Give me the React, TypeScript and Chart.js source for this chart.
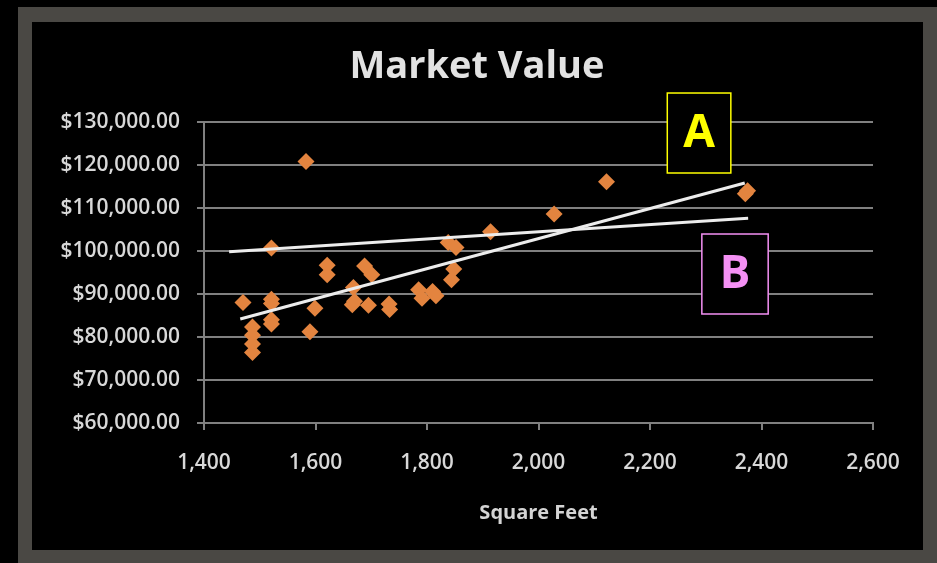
import React, { useEffect, useRef } from "react";
import { Chart, registerables } from "chart.js";

Chart.register(...registerables);

// Homes: living area (sq ft) and market value ($)
const squareFeet = [
  1470, 1487, 1487, 1487, 1487, 1521, 1521, 1521, 1521, 1521,
  1583, 1590, 1599, 1621, 1621, 1668, 1666, 1670, 1688, 1701,
  1695, 1732, 1733, 1785, 1791, 1810, 1816, 1838, 1852, 1848,
  1844, 1914, 2028, 2122, 2371, 2375,
];
const marketValue = [
  88000, 82300, 80400, 78400, 76400, 100700, 88800, 87800, 84000, 83000,
  120800, 81200, 86700, 96700, 94500, 91500, 87500, 88300, 96500, 94500,
  87400, 87700, 86400, 91000, 89000, 90600, 89600, 102000, 100800, 95800,
  93300, 104500, 108600, 116100, 113300, 114000,
];

// Two candidate fit lines (end points)
const lineAFeet = [1465, 2370];
const lineAValue = [84190, 115800];
const lineBFeet = [1445, 2376];
const lineBValue = [99840, 107600];

// Axis ranges
const xRange = [1400, 2600, 200];
const yRange = [60000, 130000, 10000];

// Callout boxes, anchored in data units: [left, right] feet, [top, bottom] value
const calloutLabels = ["A", "B"];
const calloutFeet = [
  [2231, 2345],
  [2293, 2412],
];
const calloutValue = [
  [136740, 118140],
  [103950, 85350],
];
const calloutColors = ["#ffff00", "#f490f4"];

const FONT = "'Open Sans', 'DejaVu Sans', sans-serif";

const overlayPlugin = {
  id: "overlay",
  afterDraw(chart: any) {
    const { ctx, chartArea, scales } = chart;
    const xs = scales.x;
    const ys = scales.y;
    ctx.save();

    // Chart title
    ctx.fillStyle = "#e2e2e2";
    ctx.textAlign = "center";
    ctx.textBaseline = "alphabetic";
    ctx.font = `bold 38px ${FONT}`;
    ctx.fillText("Market Value", 477, 78);

    // X axis title
    ctx.font = `bold 20px ${FONT}`;
    ctx.fillStyle = "#d4d4d4";
    ctx.fillText("Square Feet", (chartArea.left + chartArea.right) / 2, 519);

    // Callout boxes
    calloutLabels.forEach((label, i) => {
      const l = xs.getPixelForValue(calloutFeet[i][0]);
      const r = xs.getPixelForValue(calloutFeet[i][1]);
      const t = ys.getPixelForValue(calloutValue[i][0]);
      const b = ys.getPixelForValue(calloutValue[i][1]);
      ctx.fillStyle = "#000000";
      ctx.fillRect(l, t, r - l, b - t);
      ctx.strokeStyle = calloutColors[i];
      ctx.lineWidth = 1.5;
      ctx.strokeRect(l, t, r - l, b - t);
      ctx.fillStyle = calloutColors[i];
      ctx.font = `bold 46px ${FONT}`;
      ctx.textAlign = "center";
      ctx.textBaseline = "middle";
      ctx.fillText(label, (l + r) / 2, (t + b) / 2 + 1);
    });

    ctx.restore();
  },
};

export default function App() {
  const canvasRef = useRef<HTMLCanvasElement | null>(null);

  useEffect(() => {
    const canvas = canvasRef.current;
    if (!canvas) return;

    const points = squareFeet.map((x, i) => ({ x, y: marketValue[i] }));
    const lineA = lineAFeet.map((x, i) => ({ x, y: lineAValue[i] }));
    const lineB = lineBFeet.map((x, i) => ({ x, y: lineBValue[i] }));

    const gridColor = "#808080";
    const tickFont = { family: FONT, size: 21, weight: 600 as any };

    const chart = new Chart(canvas, {
      type: "scatter",
      data: {
        datasets: [
          {
            label: "A",
            data: lineA,
            showLine: true,
            borderColor: "#ececec",
            borderWidth: 3,
            pointRadius: 0,
            order: 0,
          },
          {
            label: "B",
            data: lineB,
            showLine: true,
            borderColor: "#ececec",
            borderWidth: 3,
            pointRadius: 0,
            order: 1,
          },
          {
            label: "Market Value",
            data: points,
            pointStyle: "rectRot",
            pointRadius: 8.5,
            pointBackgroundColor: "#e3843f",
            pointBorderColor: "#e3843f",
            pointBorderWidth: 0,
            order: 2,
          },
        ],
      },
      options: {
        responsive: false,
        animation: false,
        layout: { padding: { left: 0, right: 64, top: 122, bottom: 0 } },
        plugins: {
          legend: { display: false },
          title: { display: false },
          tooltip: { enabled: false },
        },
        scales: {
          x: {
            type: "linear",
            min: xRange[0],
            max: xRange[1],
            afterFit: (s: any) => {
              s.height = 140;
            },
            ticks: {
              stepSize: xRange[2],
              color: "#d8d8d8",
              font: tickFont,
              padding: 20,
              callback: (v: any) => Number(v).toLocaleString("en-US"),
            },
            grid: {
              drawOnChartArea: false,
              drawTicks: true,
              tickLength: 7,
              color: gridColor,
              lineWidth: 2,
            },
            border: { display: true, color: gridColor, width: 2 },
          },
          y: {
            type: "linear",
            min: yRange[0],
            max: yRange[1],
            afterFit: (s: any) => {
              s.width = 204;
            },
            ticks: {
              stepSize: yRange[2],
              color: "#d8d8d8",
              font: tickFont,
              padding: 17,
              callback: (v: any) =>
                "$" +
                Number(v).toLocaleString("en-US", {
                  minimumFractionDigits: 2,
                  maximumFractionDigits: 2,
                }),
            },
            grid: {
              color: gridColor,
              lineWidth: 2,
              tickLength: 7,
            },
            border: { display: true, color: gridColor, width: 2 },
          },
        },
      },
      plugins: [overlayPlugin],
    });

    return () => chart.destroy();
  }, []);

  return (
    <div
      style={{
        position: "fixed",
        left: 0,
        top: 0,
        width: 937,
        height: 563,
        background: "#000000",
        overflow: "hidden",
      }}
    >
      <div
        style={{
          position: "absolute",
          left: 18,
          top: 7,
          right: 0,
          bottom: 0,
          background: "#4a4844",
        }}
      />
      <div
        style={{
          position: "absolute",
          left: 32,
          top: 22,
          width: 891,
          height: 528,
          background: "#000000",
        }}
      />
      <canvas
        ref={canvasRef}
        width={937}
        height={563}
        style={{ position: "absolute", left: 0, top: 0, width: 937, height: 563 }}
      />
    </div>
  );
}
